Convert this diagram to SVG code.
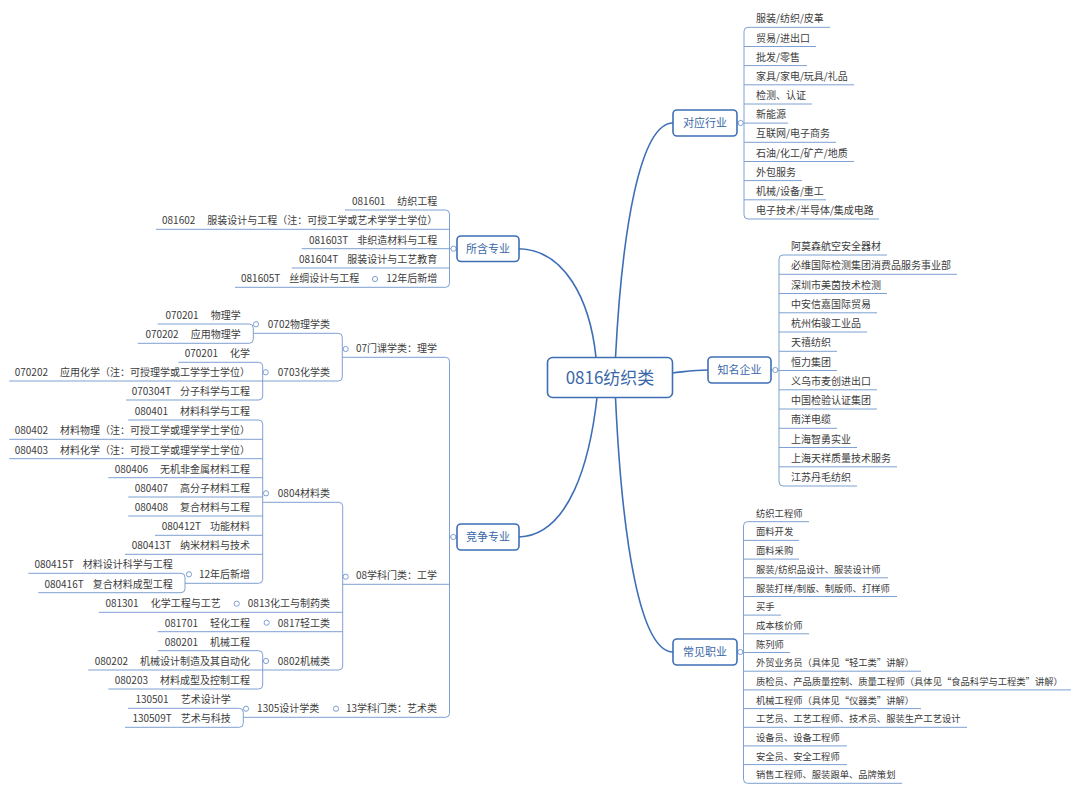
<svg xmlns="http://www.w3.org/2000/svg" width="1080" height="791" viewBox="0 0 1080 791" font-family="'Noto Sans CJK SC', 'Noto Sans', sans-serif">
<style>
.n{fill:#fff;stroke:#3e6fb6;stroke-width:1.6}
.nt{font-size:11px;fill:#3a67a8;text-anchor:middle}
.ct{font-size:17px;fill:#3a67a8;text-anchor:middle}
.t{font-size:10px;fill:#3c3c3c}
.s{font-size:9.3px}
.e{text-anchor:end}
.l{stroke:#7ea0d2;stroke-width:1;fill:none}
.m{stroke:#3e6fb6;stroke-width:1.6;fill:none}
.d{fill:#fff;stroke:#7ea0d2;stroke-width:1}
</style>
<rect width="1080" height="791" fill="#fff"/>

<g id="connectors">
<path class="m" d="M519,248.7 C565,250 590,300 596,357.5"/>
<path class="m" d="M519,537 C570,535 590,460 597,397.5"/>
<path class="m" d="M615.5,357.5 C622,230 640,123 673,123"/>
<path class="m" d="M615.5,397.5 C622,540 640,652 673,652"/>
<path class="m" d="M672.5,373 C690,371 695,370 708,370"/>
<!-- 对应行业 -->
<path class="l" d="M737,123 H744 M748,27.3 Q744,27.3 744,31.3 V215 Q744,219 748,219"/>
<path class="l" d="M748,27.3H830 M744,46.5H816 M744,65.6H807 M744,84.8H854 M744,104H812 M744,123.1H788 M744,142.3H836 M744,161.5H854 M744,180.6H802 M744,199.8H826 M748,219H879"/>
<!-- 知名企业 -->
<path class="l" d="M771,370 H779 M783,255 Q779,255 779,259 V482 Q779,486 783,486"/>
<path class="l" d="M783,255H887 M779,274.3H957 M779,293.5H887 M779,312.8H877 M779,332H867 M779,351.3H837 M779,370.5H837 M779,389.8H877 M779,409H877 M779,428.3H837 M779,447.5H857 M779,466.8H897 M783,486H857"/>
<!-- 常见职业 -->
<path class="l" d="M737,652 H743.5 M747.5,521.7 Q743.5,521.7 743.5,525.7 V779.3 Q743.5,783.3 747.5,783.3"/>
<path class="l" d="M747.5,521.7H809 M743.5,540.4H799 M743.5,559.1H799 M743.5,577.8H888 M743.5,596.5H897 M743.5,615.1H781 M743.5,633.8H809 M743.5,652.5H790 M743.5,671.2H921 M743.5,689.9H1071 M743.5,708.6H921 M743.5,727.3H967 M743.5,745.9H847 M743.5,764.6H847 M747.5,783.3H902"/>
<!-- 所含专业 -->
<path class="l" d="M457,248.7 H449.5 M445.5,210 Q449.5,210 449.5,214 V283.3 Q449.5,287.3 445.5,287.3"/>
<path class="l" d="M345,210H445.5 M156,229.3H449.5 M301.7,248.7H449.5 M291.7,268H449.5 M235,287.3H445.5"/>
<!-- 竞争专业 -->
<path class="l" d="M457,537 H449.5 M445.5,357.3 Q449.5,357.3 449.5,361.3 V713.3 Q449.5,717.3 445.5,717.3"/>
<path class="l" d="M342.3,357.3H445.5 M342.7,584.3H449.5 M243.3,717.3H445.5"/>
<path class="l" d="M338.3,333.3 Q342.3,333.3 342.3,337.3 V377 Q342.3,381 338.3,381"/>
<path class="l" d="M253.3,333.3H338.3 M262.7,381H338.3"/>
<path class="l" d="M249.3,324 Q253.3,324 253.3,328 V339.3 Q253.3,343.3 249.3,343.3 M157.7,324H249.3 M137.7,343.3H249.3"/>
<path class="l" d="M258.7,362.3 Q262.7,362.3 262.7,366.3 V396 Q262.7,400 258.7,400 M178.3,362.3H258.7 M9.3,381H262.7 M126,400H258.7"/>
<path class="l" d="M338.7,502.3 Q342.7,502.3 342.7,506.3 V666 Q342.7,670 338.7,670"/>
<path class="l" d="M262.7,502.3H338.7 M98.7,612.3H342.7 M157.7,631.7H342.7 M262.7,670H338.7"/>
<path class="l" d="M258.7,420 Q262.7,420 262.7,424 V579.3 Q262.7,583.3 258.7,583.3"/>
<path class="l" d="M128.3,420H258.7 M9.3,439.3H262.7 M9.3,458.7H262.7 M108.3,477.7H262.7 M128.3,497H262.7 M128.3,516H262.7 M155,535.3H262.7 M125,554.3H262.7 M185,583.3H258.7"/>
<path class="l" d="M181,573.3 Q185,573.3 185,577.3 V588.7 Q185,592.7 181,592.7 M28.3,573.3H181 M38.3,592.7H181"/>
<path class="l" d="M258.7,650.7 Q262.7,650.7 262.7,654.7 V685 Q262.7,689 258.7,689 M157.7,650.7H258.7 M88.3,670H262.7 M108.3,689H258.7"/>
<path class="l" d="M239.3,708.3 Q243.3,708.3 243.3,712.3 V723.3 Q243.3,727.3 239.3,727.3 M128,708.3H239.3 M125,727.3H239.3"/>
<!-- markers -->
<circle class="d" cx="740.7" cy="123" r="2.6"/>
<circle class="d" cx="775.3" cy="370" r="2.6"/>
<circle class="d" cx="740.3" cy="652" r="2.6"/>
<circle class="d" cx="453.5" cy="248.7" r="2.6"/>
<circle class="d" cx="453.3" cy="537" r="2.6"/>
<circle class="d" cx="375" cy="279" r="2.6"/>
<circle class="d" cx="345.7" cy="349" r="2.6"/>
<circle class="d" cx="256" cy="324.3" r="2.6"/>
<circle class="d" cx="265.7" cy="372.3" r="2.6"/>
<circle class="d" cx="345.7" cy="576.7" r="2.6"/>
<circle class="d" cx="266" cy="493.3" r="2.6"/>
<circle class="d" cx="189" cy="574.3" r="2.6"/>
<circle class="d" cx="236.7" cy="603.7" r="2.6"/>
<circle class="d" cx="266.7" cy="622.7" r="2.6"/>
<circle class="d" cx="266" cy="661" r="2.6"/>
<circle class="d" cx="336" cy="708.7" r="2.6"/>
<circle class="d" cx="246" cy="708.7" r="2.6"/>
</g>

<g id="center"><rect class="n" x="547.5" y="357.5" width="125" height="40" rx="5"/><text class="ct" x="610" y="383.5">0816纺织类</text></g>
<g id="n-suohan"><rect class="n" x="457" y="236" width="62" height="25.5" rx="4"/><text class="nt" x="488" y="252.7">所含专业</text></g>
<g id="n-jingzheng"><rect class="n" x="457" y="524" width="62" height="26" rx="4"/><text class="nt" x="488" y="541">竞争专业</text></g>
<g id="n-duiying"><rect class="n" x="673" y="110" width="64" height="26" rx="4"/><text class="nt" x="705" y="127">对应行业</text></g>
<g id="n-zhiming"><rect class="n" x="708" y="357" width="63" height="26" rx="4"/><text class="nt" x="739.5" y="374">知名企业</text></g>
<g id="n-changjian"><rect class="n" x="673" y="639" width="64" height="26" rx="4"/><text class="nt" x="705" y="656">常见职业</text></g>

<g id="duiying-items" class="t">
<text x="756" y="22.3">服装/纺织/皮革</text>
<text x="756" y="41.5">贸易/进出口</text>
<text x="756" y="60.6">批发/零售</text>
<text x="756" y="79.8">家具/家电/玩具/礼品</text>
<text x="756" y="99">检测、认证</text>
<text x="756" y="118.1">新能源</text>
<text x="756" y="137.3">互联网/电子商务</text>
<text x="756" y="156.5">石油/化工/矿产/地质</text>
<text x="756" y="175.6">外包服务</text>
<text x="756" y="194.8">机械/设备/重工</text>
<text x="756" y="214">电子技术/半导体/集成电路</text>
</g>

<g id="zhiming-items" class="t">
<text x="791" y="250">阿莫森航空安全器材</text>
<text x="791" y="269.3">必维国际检测集团消费品服务事业部</text>
<text x="791" y="288.5">深圳市美茵技术检测</text>
<text x="791" y="307.8">中安信嘉国际贸易</text>
<text x="791" y="327">杭州佑骏工业品</text>
<text x="791" y="346.3">天禧纺织</text>
<text x="791" y="365.5">恒力集团</text>
<text x="791" y="384.8">义乌市麦创进出口</text>
<text x="791" y="404">中国检验认证集团</text>
<text x="791" y="423.3">南洋电缆</text>
<text x="791" y="442.5">上海智勇实业</text>
<text x="791" y="461.8">上海天祥质量技术服务</text>
<text x="791" y="481">江苏丹毛纺织</text>
</g>

<g id="changjian-items" class="t s">
<text x="756" y="516.7">纺织工程师</text>
<text x="756" y="535.4">面料开发</text>
<text x="756" y="554.1">面料采购</text>
<text x="756" y="572.8">服装/纺织品设计、服装设计师</text>
<text x="756" y="591.5">服装打样/制版、制版师、打样师</text>
<text x="756" y="610.1">买手</text>
<text x="756" y="628.8">成本核价师</text>
<text x="756" y="647.5">陈列师</text>
<text x="756" y="666.2">外贸业务员（具体见“轻工类”讲解）</text>
<text x="756" y="684.9">质检员、产品质量控制、质量工程师（具体见“食品科学与工程类”讲解）</text>
<text x="756" y="703.6">机械工程师（具体见“仪器类”讲解）</text>
<text x="756" y="722.3">工艺员、工艺工程师、技术员、服装生产工艺设计</text>
<text x="756" y="740.9">设备员、设备工程师</text>
<text x="756" y="759.6">安全员、安全工程师</text>
<text x="756" y="778.3">销售工程师、服装跟单、品牌策划</text>
</g>

<g id="suohan-items" class="t e">
<text x="437.3" y="205">081601<tspan dx="12">纺织工程</tspan></text>
<text x="437.3" y="224.3">081602<tspan dx="12">服装设计与工程（注：可授工学或艺术学学士学位）</tspan></text>
<text x="437.3" y="243.7">081603T<tspan dx="9">非织造材料与工程</tspan></text>
<text x="437.3" y="263">081604T<tspan dx="9">服装设计与工艺教育</tspan></text>
<text x="437.3" y="282.3">12年后新增</text>
<text x="359.3" y="282.3">081605T<tspan dx="9">丝绸设计与工程</tspan></text>
</g>

<g id="jingzheng-items" class="t e">
<text x="437" y="352.3">07门课学类：理学</text>
<text x="330" y="328.3">0702物理学类</text>
<text x="240.7" y="319">070201<tspan dx="12">物理学</tspan></text>
<text x="240.7" y="338.3">070202<tspan dx="12">应用物理学</tspan></text>
<text x="330" y="376">0703化学类</text>
<text x="250" y="357.3">070201<tspan dx="12">化学</tspan></text>
<text x="250" y="376">070202<tspan dx="12">应用化学（注：可授理学或工学学士学位）</tspan></text>
<text x="250" y="395">070304T<tspan dx="9">分子科学与工程</tspan></text>

<text x="437" y="579.3">08学科门类：工学</text>
<text x="330" y="497.3">0804材料类</text>
<text x="250" y="415">080401<tspan dx="12">材料科学与工程</tspan></text>
<text x="250" y="434.3">080402<tspan dx="12">材料物理（注：可授工学或理学学士学位）</tspan></text>
<text x="250" y="453.7">080403<tspan dx="12">材料化学（注：可授工学或理学学士学位）</tspan></text>
<text x="250" y="472.7">080406<tspan dx="12">无机非金属材料工程</tspan></text>
<text x="250" y="492">080407<tspan dx="12">高分子材料工程</tspan></text>
<text x="250" y="511">080408<tspan dx="12">复合材料与工程</tspan></text>
<text x="250" y="530.3">080412T<tspan dx="9">功能材料</tspan></text>
<text x="250" y="549.3">080413T<tspan dx="9">纳米材料与技术</tspan></text>
<text x="250" y="578.3">12年后新增</text>
<text x="172.7" y="568.3">080415T<tspan dx="9">材料设计科学与工程</tspan></text>
<text x="172.7" y="587.7">080416T<tspan dx="9">复合材料成型工程</tspan></text>
<text x="330" y="607.3">0813化工与制药类</text>
<text x="220.7" y="607.3">081301<tspan dx="12">化学工程与工艺</tspan></text>
<text x="330" y="626.7">0817轻工类</text>
<text x="250" y="626.7">081701<tspan dx="12">轻化工程</tspan></text>
<text x="330" y="665">0802机械类</text>
<text x="250" y="645.7">080201<tspan dx="12">机械工程</tspan></text>
<text x="250" y="665">080202<tspan dx="12">机械设计制造及其自动化</tspan></text>
<text x="250" y="684">080203<tspan dx="12">材料成型及控制工程</tspan></text>

<text x="437" y="712.3">13学科门类：艺术类</text>
<text x="319.3" y="712.3">1305设计学类</text>
<text x="230.7" y="703.3">130501<tspan dx="12">艺术设计学</tspan></text>
<text x="230.7" y="722.3">130509T<tspan dx="9">艺术与科技</tspan></text>
</g>
</svg>
